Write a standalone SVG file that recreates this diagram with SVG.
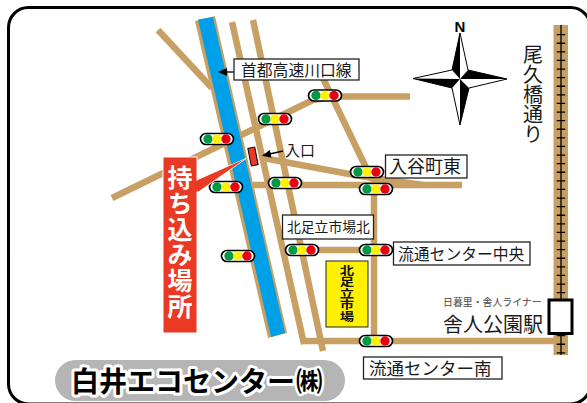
<svg xmlns="http://www.w3.org/2000/svg" width="587" height="403" viewBox="0 0 587 403">
<style>
text{font-family:"Noto Sans CJK JP","Liberation Sans",sans-serif;fill:#1a1a1a}
.road{fill:none;stroke:#c8a064;stroke-width:6.5}
.lb{fill:#fff;stroke:#222;stroke-width:1.3}
.t{font-weight:400}
.g{fill:#009944}.y{fill:#fff100}.r{fill:#e60012}
.pill{fill:#fff;stroke:#000;stroke-width:1.7}
.v{writing-mode:vertical-rl}
</style>
<defs>
<g id="sig"><rect class="pill" x="-16.500" y="-5.500" width="33" height="11" rx="5.500"/><circle class="g" cx="-9" r="4.700"/><circle class="y" r="4.700"/><circle class="r" cx="9" r="4.700"/></g>
<marker id="ah" markerWidth="9" markerHeight="8" refX="8" refY="4" orient="auto" markerUnits="userSpaceOnUse"><path d="M0 0L9 4L0 8Z" fill="#000"/></marker>
</defs>
<rect width="587" height="403" fill="#fff"/>
<rect id="frame" x="8.500" y="7.500" width="582" height="396.500" rx="20" fill="#fff" stroke="#000" stroke-width="3"/>
<g id="connectors">
<path class="road" d="M158 30L212 88"/>
<path class="road" d="M112 198L313 100L335 96.500H410"/>
<path class="road" d="M232 22L304 344"/>
<path class="road" d="M253 20L323 351"/>
<path class="road" d="M320 72L372 180"/>
<path class="road" d="M263 158L360 176L423 185"/>
<path class="road" d="M253 185H462"/>
<path class="road" d="M374 180V341"/>
<path class="road" d="M290 250H374"/>
<path class="road" d="M301 341H556"/>
<path d="M195 21L215 16L287 333L268 338Z" fill="#c8a064"/>
<path d="M198 19.500L213 17L285 333L271 337Z" fill="#00a0e9"/>
<rect x="553.500" y="25" width="14.500" height="330" fill="#c8a064"/>
<path d="M561 25V355" stroke="#000" stroke-width="1.300"/>
<path d="M561 34V355" fill="none" stroke="#000" stroke-width="8.500" stroke-dasharray="1.300 7.300"/>
<path d="M234 72H219" stroke="#000" stroke-width="1.300" marker-end="url(#ah)"/>
<path d="M283 151L263 155.500" stroke="#000" stroke-width="1.300" marker-end="url(#ah)"/>
</g>
<g id="signals">
<use href="#sig" x="325" y="95.500"/><use href="#sig" x="275" y="119"/><use href="#sig" x="217" y="139"/>
<use href="#sig" x="226" y="187"/><use href="#sig" x="285" y="183"/><use href="#sig" x="367" y="172"/>
<use href="#sig" x="376" y="189"/><use href="#sig" x="238" y="256"/><use href="#sig" x="302" y="250"/>
<use href="#sig" x="376" y="250"/><use href="#sig" x="376" y="341"/>
</g>
<g id="entrance">
<rect x="249.500" y="147.500" width="7" height="18" transform="rotate(-11 253 156.500)" fill="#ea3a25" stroke="#000" stroke-width="1"/>
<text x="285" y="156" font-size="15" class="t">入口</text>
</g>
<g id="drop-off">
<path d="M197 180L246 158.500L197 193Z" fill="#ea3a25" stroke="#fff" stroke-width="1"/>
<rect x="163" y="157" width="34" height="176" fill="#ea3a25" stroke="#fff" stroke-width="1"/>
<path d="M196 181L244 159.500L196 192Z" fill="#ea3a25"/>
<text class="v" x="180" y="165" font-size="25" font-weight="700" style="fill:#fff;letter-spacing:.8px">持ち込み場所</text>
</g>
<g id="label-shuto"><rect class="lb" x="234" y="59" width="125" height="21"/><text class="t" x="241" y="75.500" font-size="15.800">首都高速川口線</text></g>
<g id="label-iriya"><rect class="lb" x="385.500" y="155" width="81.500" height="23"/><text class="t" x="389" y="173" font-size="18">入谷町東</text></g>
<g id="label-kitaadachi"><rect class="lb" x="282.500" y="215" width="91" height="24"/><text class="t" x="287" y="232" font-size="13.800">北足立市場北</text></g>
<g id="label-chuo"><rect class="lb" x="393.500" y="242" width="136.500" height="23"/><text class="t" x="398" y="259.500" font-size="15.800">流通センター中央</text></g>
<g id="label-minami"><rect class="lb" x="363.500" y="357" width="138.500" height="22"/><text class="t" x="369" y="374.500" font-size="17.500">流通センター南</text></g>
<g id="market"><rect x="326" y="261" width="42" height="66" fill="#fff100" stroke="#222" stroke-width="1"/><text class="v" transform="translate(347 264.500) scale(1.150 .92)" font-size="12.500" font-weight="700" style="fill:#111">北足立市場</text></g>
<g id="station">
<rect x="549" y="300" width="23" height="33.500" fill="#fff" stroke="#000" stroke-width="3"/>
<text x="443" y="305.500" font-size="9.900" class="t" style="fill:#444">日暮里・舎人ライナー</text>
<text x="443" y="332" font-size="20" class="t">舎人公園駅</text>
</g>
<g id="road-name"><text class="v t" x="533" y="44" font-size="20">尾久橋通り</text></g>
<g id="compass">
<path d="M460 33L468 70L507 79L469 88L460 125L452 88L413 78.500L452 70Z" fill="#fff" stroke="#000" stroke-width="1"/>
<path d="M460 33L452 70L460 79ZM507 79L468 70L460 79ZM460 125L469 88L460 79ZM413 78.500L452 88L460 79Z" fill="#000"/>
<text x="460" y="32" font-size="15" font-weight="700" text-anchor="middle" style="font-family:'Liberation Sans',sans-serif;fill:#000">N</text>
</g>
<g id="title">
<rect x="55" y="360" width="290" height="41" rx="20.500" fill="#b5b5b5"/>
<text x="71" y="392" font-size="28" font-weight="700" stroke="#fff" stroke-width="6" paint-order="stroke" stroke-linejoin="round" style="fill:#000">白井エコセンター</text>
<text x="296" y="391" font-size="26.500" font-weight="700" stroke="#fff" stroke-width="5" paint-order="stroke" stroke-linejoin="round" style="fill:#000">㈱</text>
</g>
</svg>
